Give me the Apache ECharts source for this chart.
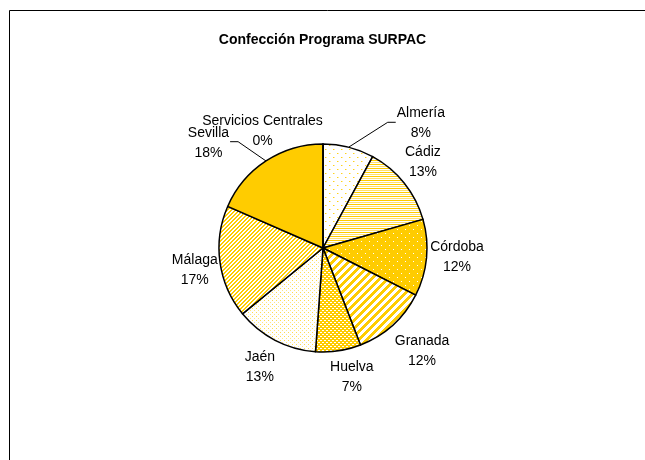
<!DOCTYPE html>
<html>
<head>
<meta charset="utf-8">
<script src="https://cdn.jsdelivr.net/npm/echarts@6/dist/echarts.min.js"></script>
<style>
html,body{margin:0;padding:0;background:#fff;}
#chart{width:645px;height:460px;}
</style>
</head>
<body>
<div id="chart"></div>
<script>
// ---- data ----
var categories = ['Almería', 'Cádiz', 'Córdoba', 'Granada', 'Huelva', 'Jaén', 'Málaga', 'Sevilla', 'Servicios Centrales'];
var values = [7.9, 12.6, 11.9, 11.6, 7.0, 12.9, 17.4, 18.4, 0];
var chartTitle = 'Confección Programa SURPAC';

// ---- patterns ----
var Y = '#FFCC00';
function makeCanvas(w, h, draw) {
  var c = document.createElement('canvas');
  c.width = w; c.height = h;
  var ctx = c.getContext('2d');
  draw(ctx, w, h);
  return c;
}
function px(ctx, col, x, y, w, h) { ctx.fillStyle = col; ctx.fillRect(x, y, w || 1, h || 1); }
var patterns = [
  // Almería: sparse yellow dots on white
  makeCanvas(8, 8, function (ctx) { px(ctx, '#fff', 0, 0, 8, 8); px(ctx, '#FFD21A', 1, 1); px(ctx, '#FFD21A', 5, 5); px(ctx, '#FFEB99', 2, 1); px(ctx, '#FFEB99', 6, 5); }),
  // Cádiz: horizontal stripes
  makeCanvas(4, 4, function (ctx) { px(ctx, '#fff', 0, 0, 4, 4); px(ctx, Y, 0, 0, 4, 1); px(ctx, '#FFE070', 0, 2, 4, 1); }),
  // Córdoba: yellow with white dots
  makeCanvas(8, 8, function (ctx) { px(ctx, Y, 0, 0, 8, 8); px(ctx, '#fff', 1, 1); px(ctx, '#fff', 5, 5); }),
  // Granada: wide diagonal stripes
  makeCanvas(8, 8, function (ctx) {
    for (var x = 0; x < 8; x++) for (var y = 0; y < 8; y++) px(ctx, ((x + y) % 8) < 4 ? Y : '#fff', x, y);
  }),
  // Huelva: yellow with small white dashes
  makeCanvas(4, 4, function (ctx) { px(ctx, Y, 0, 0, 4, 4); px(ctx, '#fff', 0, 0, 2, 1); px(ctx, '#fff', 2, 2, 2, 1); }),
  // Jaén: dense yellow dots on white
  makeCanvas(4, 4, function (ctx) { px(ctx, '#fff', 0, 0, 4, 4); px(ctx, '#FFDB4D', 0, 0); px(ctx, '#FFE680', 2, 2); }),
  // Málaga: fine diagonal stripes
  makeCanvas(4, 4, function (ctx) {
    for (var x = 0; x < 4; x++) for (var y = 0; y < 4; y++) px(ctx, ((x + y) % 4) < 2 ? Y : '#fff', x, y);
  }),
  null, // Sevilla solid
  null
];

var CX = 323, CY = 248, R = 104;
var total = values.reduce(function (a, b) { return a + b; }, 0);
var cum = [];
(function () { var s = 0; for (var i = 0; i < values.length; i++) { cum.push(s + values[i] / 2); s += values[i]; } })();
function midAngle(i) { return cum[i] / total * 2 * Math.PI; } // clockwise from top

// label nudges (px) away from the default outside-end spot
var labelShift = [[65, 4.5], [-5, -2], [-2, -4], [4.5, -2], [9.5, 0], [-2, 1.5], [4, 3.5], [-40, 8.5], [-60.5, 11.5]];

var seriesData = categories.map(function (c, i) {
  var d = { name: c, value: values[i] };
  var it = { borderColor: '#000', borderWidth: 1.5 };
  it.color = patterns[i] ? { image: patterns[i], repeat: 'repeat' } : Y;
  d.itemStyle = it;
  d.labelLine = { show: (i === 0 || i === 7) };
  return d;
});

var chart = echarts.init(document.getElementById('chart'));
chart.setOption({
  animation: false,
  title: {
    text: chartTitle, left: 'center', top: 28,
    textStyle: { fontFamily: 'Liberation Sans', fontWeight: 'bold', fontSize: 14, color: '#000' }
  },
  graphic: [{
    type: 'rect', shape: { x: 9.5, y: 10.5, width: 700, height: 500 },
    style: { fill: 'none', stroke: '#000', lineWidth: 1 }, silent: true
  }],
  series: [{
    type: 'pie',
    center: [CX, CY],
    radius: R,
    startAngle: 90,
    clockwise: true,
    avoidLabelOverlap: false,
    emphasis: { disabled: true },
    data: seriesData,
    label: {
      show: true, position: 'outside',
      fontFamily: 'Liberation Sans',
      fontSize: 14, color: '#000', lineHeight: 20, align: 'center',
      formatter: function (p) { return p.name + '\n' + Math.round(p.percent) + '%'; }
    },
    labelLine: { show: false, lineStyle: { color: '#000', width: 1 }, length: 10, length2: 8 },
    labelLayout: function (p) {
      var i = p.dataIndex;
      var a = midAngle(i);
      var sx = Math.sin(a), cy = -Math.cos(a);
      var w = p.labelRect.width, h = p.labelRect.height;
      var gap = 4;
      var d = R + gap + Math.abs(sx) * w / 2 + Math.abs(cy) * h / 2;
      var x = CX + sx * d + labelShift[i][0], y = CY + cy * d + labelShift[i][1];
      var res = { x: x, y: y, align: 'center', verticalAlign: 'middle' };
      if (i === 0 || i === 7) {
        var ex = CX + sx * R, ey = CY + cy * R;
        var side = i === 0 ? -1 : 1;
        var lx = x + side * (w / 2 + 1);
        res.labelLinePoints = [[ex, ey], [lx + side * 8, y - 1], [lx, y - 1]];
      }
      return res;
    }
  }]
});
</script>
</body>
</html>
